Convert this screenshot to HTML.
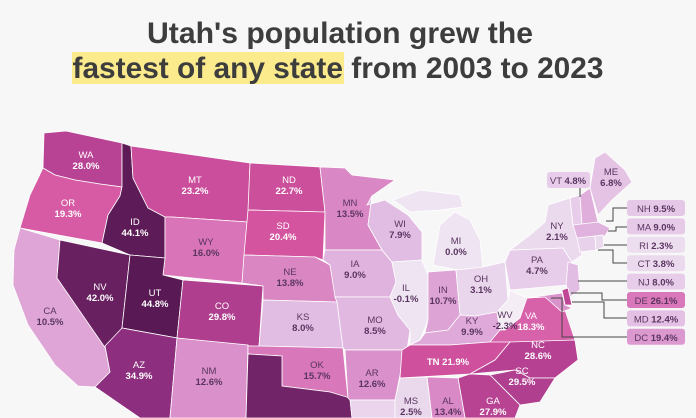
<!DOCTYPE html>
<html><head><meta charset="utf-8"><style>
body{margin:0;background:#f7f7f7;width:696px;height:418px;overflow:hidden;font-family:"Liberation Sans",sans-serif}
svg{display:block}
</style></head><body>
<svg id="map" width="696" height="418" viewBox="0 0 696 418">
<rect width="696" height="418" fill="#f7f7f7"/>
<rect x="72" y="52" width="272" height="32" fill="#fbeb8c"/>
<text x="340" y="43" text-anchor="middle" font-size="30" font-weight="bold" fill="#3d3d3d" textLength="386" lengthAdjust="spacingAndGlyphs">Utah's population grew the</text>
<text x="338" y="78" text-anchor="middle" font-size="30" font-weight="bold" fill="#3d3d3d" textLength="531" lengthAdjust="spacingAndGlyphs">fastest of any state from 2003 to 2023</text>
<g id="states"></g><g id="leaders"></g><g id="labels"></g>
</svg>
<script>
const states=["WA","OR","CA","NV","ID","MT","WY","UT","CO","AZ","NM","ND","SD","NE","KS","OK","TX","MN","IA","MO","AR","LA","WI","IL","IN","MI","OH","KY","WV","VA","TN","NC","SC","GA","AL","MS","PA","NY","NJ","DE","MD","VT","NH","ME","MA","CT","RI"];
const values=[28.0,19.3,10.5,42.0,44.1,23.2,16.0,44.8,29.8,34.9,12.6,22.7,20.4,13.8,8.0,15.7,40.0,13.5,9.0,8.5,12.6,3.0,7.9,-0.1,10.7,0.0,3.1,9.9,-2.3,18.3,21.9,28.6,29.5,27.9,13.4,2.5,4.7,2.1,8.0,26.1,12.4,4.8,9.5,6.8,9.0,3.8,2.3];
const boxStates=["NH","MA","RI","CT","NJ","DE","MD","DC"];
const boxValues=[9.5,9.0,2.3,3.8,8.0,26.1,12.4,19.4];
const shapes={
WA:"44,133 66,131 122,143 122,187 100,184 75,180 55,175 43,168",
OR:"43,168 55,175 75,180 100,184 122,187 120,196 108,215 102,243 20,228 30,195",
CA:"20,228 60,240 57,278 105,346 110,372 96,387 78,386 55,365 28,325 13,285 14,250",
NV:"60,240 130,255 122,328 108,352 57,278",
ID:"122,143 131,146 133,178 148,208 165,217 165,258 130,255 102,243 108,215 120,196 122,187",
MT:"131,146 250,163 248,222 172,217 165,217 148,208 133,178",
WY:"172,217 248,222 242,283 163,275 165,258 165,217",
UT:"130,255 165,258 163,275 183,280 177,338 122,328",
CO:"183,280 263,286 259,347 177,338",
AZ:"122,328 177,338 170,418 140,418 95,387 110,372 105,346",
NM:"177,338 248,345 246,418 170,418",
ND:"250,163 320,167 325,212 248,210",
SD:"248,210 325,212 323,260 315,257 244,255",
NE:"244,255 315,257 330,265 337,302 263,300 263,286 242,283",
KS:"263,300 337,302 343,348 259,346",
OK:"259,346 343,348 348,398 330,392 282,386 282,356 248,354 248,346",
TX:"248,354 282,356 282,386 330,392 350,398 352,418 246,418",
MN:"320,167 345,168 352,175 395,180 372,196 368,225 382,250 325,250 325,212",
IA:"325,250 382,250 392,262 396,282 390,297 335,297 330,265 323,260",
MO:"335,297 390,297 398,315 410,330 407,350 345,350 343,348 337,302",
AR:"345,350 404,350 400,375 395,400 350,400 348,398",
LA:"350,400 395,400 395,418 352,418",
WI:"367,205 385,200 408,215 422,232 422,260 392,262 382,250 368,225 372,196",
IL:"392,262 422,260 428,275 428,320 420,340 410,345 410,330 398,315 390,297 396,282",
IN:"428,272 456,270 460,315 448,330 425,333 428,320",
MI:"433,265 440,225 455,212 470,220 480,240 483,267 458,270 M393,200 420,190 460,195 463,207 440,210 410,212",
OH:"456,270 483,267 505,262 508,300 497,312 475,316 460,315",
KY:"410,345 420,340 425,333 448,330 460,315 475,316 497,312 500,330 490,342 450,345",
WV:"497,312 508,300 510,290 527,298 520,318 505,330 500,330",
VA:"500,330 505,330 520,318 527,298 545,297 565,310 575,340 485,345 490,342",
TN:"402,350 410,345 450,345 490,342 510,342 495,360 470,374 400,378",
NC:"510,342 575,340 578,360 555,378 530,378 515,370 470,374 495,360",
SC:"515,370 530,378 555,378 540,402 520,405 490,375",
GA:"470,374 490,375 520,405 515,418 465,418 458,378",
AL:"427,377 458,378 465,418 432,418",
MS:"400,378 427,377 432,418 395,418 395,400",
PA:"505,262 510,250 563,248 572,262 568,285 510,290",
NY:"510,250 530,235 545,222 548,205 570,198 573,225 580,242 582,255 572,262 563,248",
NJ:"568,262 578,265 580,290 570,297 566,285",
DE:"562,290 568,288 572,305 565,305",
MD:"527,298 562,293 565,305 572,308 562,312 545,297",
VT:"570,198 580,195 582,225 573,225",
NH:"580,195 590,188 598,222 582,225",
ME:"590,188 595,158 605,152 625,170 632,182 612,200 598,215",
MA:"573,225 598,222 610,228 605,236 577,238",
CT:"577,238 595,236 596,250 580,252",
RI:"595,236 603,235 604,247 596,250"};
const labelPos={WA:[86,158],OR:[68,206],CA:[50,314],NV:[100,290],ID:[135,225],MT:[195,183],WY:[206,245],UT:[155,296],CO:[222,309],AZ:[139,368],NM:[209,374],ND:[289,183],SD:[283,229],NE:[290,275],KS:[303,320],OK:[317,368],MN:[350,206],IA:[355,267],MO:[375,323],AR:[372,376],WI:[400,227],IL:[406,291],IN:[443,293],MI:[456,244],OH:[481,282],KY:[472,324],WV:[505,318],VA:[531,319],NC:[538,348],SC:[522,374],GA:[493,404],AL:[448,404],MS:[411,404],PA:[537,263],NY:[557,229],ME:[611,175]};
const stops=[[-3,[246,240,247]],[0,[238,228,242]],[8,[226,189,227]],[13,[217,140,200]],[20,[214,85,160]],[29,[180,64,145]],[35,[140,47,126]],[45,[88,25,83]]];
function color(v){
  for(let i=1;i<stops.length;i++){if(v<=stops[i][0]||i==stops.length-1){
    const a=stops[i-1],b=stops[i];let t=Math.max(0,Math.min(1,(v-a[0])/(b[0]-a[0])));
    return "rgb("+a[1].map((c,k)=>Math.round(c+(b[1][k]-c)*t)).join(",")+")";}}
}
const NS="http://www.w3.org/2000/svg";
const gS=document.getElementById("states"),gL=document.getElementById("labels"),gK=document.getElementById("leaders");
states.forEach((s,i)=>{
  const p=document.createElementNS(NS,"path");
  p.setAttribute("d",shapes[s].split(" M").map(seg=>"M"+seg.replace(/^M/,"").trim().split(" ").join(" L")+"Z").join(" "));
  p.setAttribute("fill",color(values[i]));p.setAttribute("stroke","#fff");p.setAttribute("stroke-width","0.8");
  
  
  gS.appendChild(p);
  if(labelPos[s]){
    const [x,y]=labelPos[s];const fill=values[i]>=18?"#fff":"#5a3560";
    const t=document.createElementNS(NS,"text");t.setAttribute("x",x);t.setAttribute("y",y);t.setAttribute("text-anchor","middle");
    t.setAttribute("font-size","9.5");t.setAttribute("fill",fill);
    t.innerHTML='<tspan x="'+x+'">'+s+'</tspan><tspan x="'+x+'" dy="11" font-weight="bold">'+values[i].toFixed(1)+'%</tspan>';
    
    
    gL.appendChild(t);
  }
});
{const i=states.indexOf("TN");const t=document.createElementNS(NS,"text");t.setAttribute("x",448);t.setAttribute("y",365);t.setAttribute("text-anchor","middle");t.setAttribute("font-size","9.5");t.setAttribute("font-weight","bold");t.setAttribute("fill","#fff");t.textContent="TN "+values[i].toFixed(1)+"%";


gL.appendChild(t);}
{const i=states.indexOf("VT");const r=document.createElementNS(NS,"rect");r.setAttribute("x",547);r.setAttribute("y",172);r.setAttribute("width",43);r.setAttribute("height",16);r.setAttribute("rx",3);r.setAttribute("fill",color(values[i]));


gL.appendChild(r);
const t=document.createElementNS(NS,"text");t.setAttribute("x",568);t.setAttribute("y",184);t.setAttribute("text-anchor","middle");t.setAttribute("font-size","9.5");t.setAttribute("fill","#5a3560");t.innerHTML='VT <tspan font-weight="bold">'+values[i].toFixed(1)+'%</tspan>';


gL.appendChild(t);
const l=document.createElementNS(NS,"path");l.setAttribute("d","M580,188 L580,197");l.setAttribute("stroke","#444");l.setAttribute("fill","none");


gK.appendChild(l);}
const leaderPaths=["M627,208 L613,208 L613,221 L606,221","M627,227 L616,227 L616,231 L608,231","M627,245 L604,245","M627,263 L613,263 L613,250 L598,250","M627,281 L578,281","M627,300 L602,300 L602,293 L571,293","M627,318 L604,318 L604,302 L572,302","M627,337 L562,337 L562,298 L551,298"];
boxStates.forEach((s,i)=>{
  const y=200+i*18.4;
  const l=document.createElementNS(NS,"path");l.setAttribute("d",leaderPaths[i]);l.setAttribute("stroke","#444");l.setAttribute("fill","none");
  
  
  gK.appendChild(l);
  const r=document.createElementNS(NS,"rect");r.setAttribute("x",627);r.setAttribute("y",y);r.setAttribute("width",58);r.setAttribute("height",16);r.setAttribute("rx",3);r.setAttribute("fill",color(boxValues[i]*0.6));
  
  
  gL.appendChild(r);
  const t=document.createElementNS(NS,"text");t.setAttribute("x",656);t.setAttribute("y",y+12);t.setAttribute("text-anchor","middle");t.setAttribute("font-size","9.5");t.setAttribute("fill","#5a3560");
  t.innerHTML=s+' <tspan font-weight="bold">'+boxValues[i].toFixed(1)+'%</tspan>';
  
  
  gL.appendChild(t);
});
</script>
</body></html>
